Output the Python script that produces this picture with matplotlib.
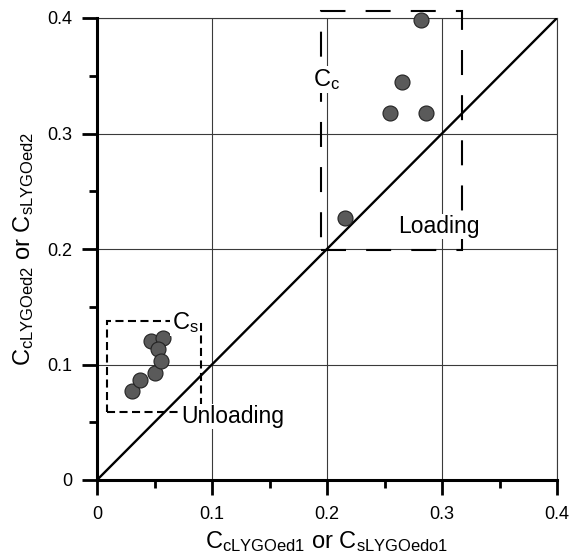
import matplotlib
matplotlib.use("Agg")
import matplotlib.pyplot as pl
import matplotlib.patches as patches
from matplotlib.ticker import FixedLocator, MultipleLocator

pl.rcParams["font.family"] = ["Liberation Sans", "DejaVu Sans"]
pl.rcParams["mathtext.fontset"] = "custom"
pl.rcParams["mathtext.rm"] = "Liberation Sans"
pl.rcParams["mathtext.it"] = "Liberation Sans:italic"
pl.rcParams["lines.scale_dashes"] = False

# values
loadingX = [0.282, 0.265, 0.255, 0.286, 0.216]
loadingY = [0.398, 0.345, 0.318, 0.318, 0.227]
unloadingX = [0.030, 0.037, 0.050, 0.047, 0.057, 0.053, 0.056]
unloadingY = [0.077, 0.087, 0.093, 0.120, 0.123, 0.113, 0.103]

tickValues = [0, 0.1, 0.2, 0.3, 0.4]
tickLabels = ["0", "0.1", "0.2", "0.3", "0.4"]

# dashed group boxes: (x0, y0, x1, y1)
loadingBox = (0.195, 0.199, 0.317, 0.406)
unloadingBox = (0.009, 0.059, 0.090, 0.138)

GRID_COLOR = "#3a3a3a"
MARKER_FACE = "#5a5a5a"

figure = pl.figure(figsize=(5.69, 5.57), dpi=100)
axes = figure.add_axes([97 / 569, 1 - 480 / 557, 460 / 569, 462 / 557])

axes.set_xlim(0, 0.4)
axes.set_ylim(0, 0.4)

axes.xaxis.set_major_locator(FixedLocator(tickValues))
axes.yaxis.set_major_locator(FixedLocator(tickValues))
axes.set_xticklabels(tickLabels)
axes.set_yticklabels(tickLabels)
axes.xaxis.set_minor_locator(MultipleLocator(0.05))
axes.yaxis.set_minor_locator(MultipleLocator(0.05))

axes.tick_params(which="major", direction="out", length=11, width=2, labelsize=13,
					color="black")
axes.tick_params(axis="x", which="major", pad=8)
axes.tick_params(axis="y", which="major", pad=7)
axes.tick_params(which="minor", direction="out", length=5.5, width=2, color="black")

axes.grid(which="major", color=GRID_COLOR, linewidth=0.8, zorder=0)
axes.set_axisbelow(True)

for side in ["left", "bottom"]:
	axes.spines[side].set_linewidth(2.2)
	axes.spines[side].set_color("black")
	axes.spines[side].set_zorder(5)
for side in ["top", "right"]:
	axes.spines[side].set_linewidth(0.8)
	axes.spines[side].set_color(GRID_COLOR)

# 1:1 line
axes.plot(tickValues, tickValues, color="black", linewidth=1.7, zorder=3)

def addBox(box, dashes, lineWidth):
	x0, y0, x1, y1 = box
	rect = patches.Rectangle((x0, y0), x1 - x0, y1 - y0, fill=False, edgecolor="black",
								linewidth=lineWidth, linestyle=(0, dashes), clip_on=False,
								zorder=3)
	axes.add_patch(rect)

addBox(loadingBox, (18, 14.5), 1.5)
addBox(unloadingBox, (5.8, 3.2), 1.5)

markerStyle = dict(linestyle="none", marker="o", markersize=10.8, markerfacecolor=MARKER_FACE,
					markeredgecolor="#222222", markeredgewidth=0.8, clip_on=False, zorder=4)
axes.plot(loadingX, loadingY, **markerStyle)
axes.plot(unloadingX, unloadingY, **markerStyle)

textBox = dict(facecolor="white", edgecolor="none", pad=1)
axes.text(0.2000, 0.3411, r"$\mathrm{C_c}$", fontsize=17, ha="center", va="baseline",
			bbox=textBox, zorder=6)
axes.text(0.0768, 0.1307, r"$\mathrm{C_s}$", fontsize=17, ha="center", va="baseline",
			bbox=textBox, zorder=6)
axes.text(0.2974, 0.2139, "Loading", fontsize=16.5, ha="center", va="baseline",
			bbox=textBox, zorder=6)
axes.text(0.1183, 0.0494, "Unloading", fontsize=16.5, ha="center", va="baseline",
			bbox=textBox, zorder=6)

axes.set_xlabel(r"$\mathrm{C_{cLYGOed1}}$ or $\mathrm{C_{sLYGOedo1}}$", fontsize=17,
				labelpad=4)
axes.set_ylabel(r"$\mathrm{C_{cLYGOed2}}$ or $\mathrm{C_{sLYGOed2}}$", fontsize=17,
				labelpad=8)

figure.savefig("out.png", dpi=100)
pl.close(figure)
